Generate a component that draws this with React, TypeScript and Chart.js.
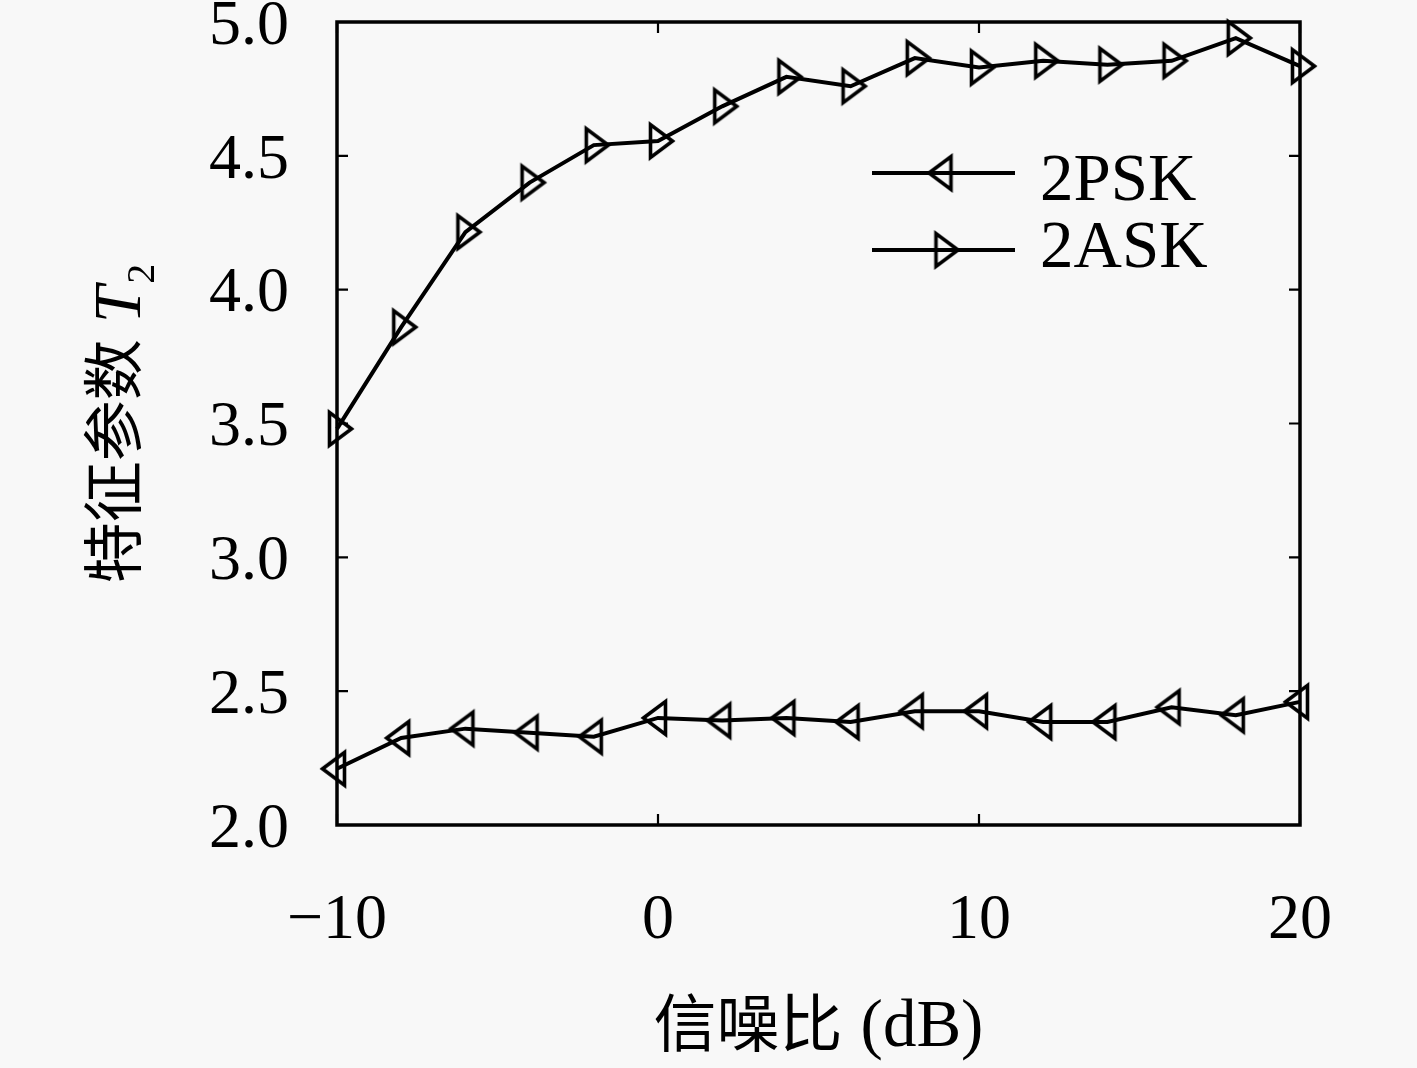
import React, { useEffect, useRef } from 'react';
import { Chart, registerables } from 'chart.js';

Chart.register(...registerables);

// ---- data ----
const snrDb = [-10, -8, -6, -4, -2, 0, 2, 4, 6, 8, 10, 12, 14, 16, 18, 20];
const psk2 = [2.21, 2.325, 2.36, 2.345, 2.33, 2.4, 2.39, 2.4, 2.385, 2.425, 2.425, 2.385, 2.385, 2.44, 2.41, 2.46];
const ask2 = [3.48, 3.86, 4.215, 4.4, 4.54, 4.555, 4.685, 4.795, 4.76, 4.865, 4.83, 4.855, 4.84, 4.855, 4.94, 4.835];
const seriesLabels = ['2PSK', '2ASK'];
const xTicks = [-10, 0, 10, 20];
const yTicks = [2.0, 2.5, 3.0, 3.5, 4.0, 4.5, 5.0];
const xTitleCn = '信噪比';
const xTitleUnit = '(dB)';
const yTitleCn = '特征参数';
const yTitleSym = 'T';
const yTitleSub = '2';

const SERIF = "'Liberation Serif', 'DejaVu Serif', serif";
const CJK = "'Noto Sans CJK SC', 'Noto Sans', sans-serif";

function makeTriangle(dir: number): HTMLCanvasElement {
  const s = 50;
  const c = s / 2;
  const cv = document.createElement('canvas');
  cv.width = s;
  cv.height = s;
  const g = cv.getContext('2d')!;
  g.lineWidth = 3.6;
  g.strokeStyle = '#000';
  g.lineJoin = 'miter';
  g.beginPath();
  g.moveTo(c + dir * 14.5, c);
  g.lineTo(c - dir * 7.5, c - 16.5);
  g.lineTo(c - dir * 7.5, c + 16.5);
  g.closePath();
  g.stroke();
  return cv;
}

export default function App() {
  const ref = useRef<HTMLCanvasElement | null>(null);

  useEffect(() => {
    document.body.style.margin = '0';
    document.body.style.background = '#f8f8f8';
    const canvas = ref.current;
    if (!canvas) return;
    const leftTri = makeTriangle(-1);
    const rightTri = makeTriangle(1);
    const markers = [leftTri, rightTri];

    const framePlugin = {
      id: 'frameTicks',
      beforeDatasetsDraw(chart: any) {
        const { ctx, chartArea: a, scales } = chart;
        const x = scales.x;
        const y = scales.y;
        ctx.save();
        ctx.strokeStyle = '#000';
        ctx.lineWidth = 2.2;
        ctx.beginPath();
        const tl = 11;
        for (const v of xTicks) {
          const px = x.getPixelForValue(v);
          ctx.moveTo(px, a.bottom);
          ctx.lineTo(px, a.bottom - tl);
          ctx.moveTo(px, a.top);
          ctx.lineTo(px, a.top + tl);
        }
        for (const v of yTicks) {
          const py = y.getPixelForValue(v);
          ctx.moveTo(a.left, py);
          ctx.lineTo(a.left + tl, py);
          ctx.moveTo(a.right, py);
          ctx.lineTo(a.right - tl, py);
        }
        ctx.stroke();
        ctx.lineWidth = 3.5;
        ctx.strokeRect(a.left, a.top, a.right - a.left, a.bottom - a.top);
        ctx.restore();
      },
    };

    const legendPlugin = {
      id: 'customLegend',
      afterDatasetsDraw(chart: any) {
        const { ctx, chartArea: a } = chart;
        const x1 = a.right - 428;
        const x2 = a.right - 285;
        const tx = a.right - 260;
        const rows = [a.top + 151, a.top + 228];
        const baselines = [a.top + 178, a.top + 245];
        ctx.save();
        seriesLabels.forEach((lab, i) => {
          const ly = rows[i];
          ctx.strokeStyle = '#000';
          ctx.lineWidth = 4;
          ctx.beginPath();
          ctx.moveTo(x1, ly);
          ctx.lineTo(x2, ly);
          ctx.stroke();
          const m = markers[i];
          ctx.drawImage(m, (x1 + x2) / 2 - m.width / 2, ly - m.height / 2);
          ctx.fillStyle = '#000';
          ctx.font = `67px ${SERIF}`;
          ctx.textBaseline = 'alphabetic';
          ctx.textAlign = 'left';
          ctx.fillText(lab, tx, baselines[i]);
        });
        ctx.restore();
      },
    };

    const titlePlugin = {
      id: 'axisTitles',
      afterDraw(chart: any) {
        const { ctx, chartArea: a } = chart;
        ctx.save();
        ctx.fillStyle = '#000';
        ctx.textBaseline = 'alphabetic';
        ctx.textAlign = 'left';
        // x title
        const cnFont = `63px ${CJK}`;
        const unitFont = `67px ${SERIF}`;
        ctx.font = cnFont;
        const wCn = ctx.measureText(xTitleCn).width;
        ctx.font = unitFont;
        const gap = 18;
        const wUnit = ctx.measureText(xTitleUnit).width;
        const total = wCn + gap + wUnit;
        const sx = (a.left + a.right) / 2 - total / 2;
        const by = 1046;
        ctx.font = cnFont;
        ctx.fillText(xTitleCn, sx, by);
        ctx.font = unitFont;
        ctx.fillText(xTitleUnit, sx + wCn + gap, by);

        // y title (rotated)
        ctx.translate(140, (a.top + a.bottom) / 2);
        ctx.rotate(-Math.PI / 2);
        const yCnFont = `61px ${CJK}`;
        const tFont = `italic 67px ${SERIF}`;
        const subFont = `40px ${SERIF}`;
        ctx.font = yCnFont;
        const w1 = ctx.measureText(yTitleCn).width;
        ctx.font = tFont;
        const w2 = ctx.measureText(yTitleSym).width;
        ctx.font = subFont;
        const w3 = ctx.measureText(yTitleSub).width;
        const g2 = 16;
        const tot = w1 + g2 + w2 + 2 + w3;
        let px = -tot / 2;
        ctx.font = yCnFont;
        ctx.fillText(yTitleCn, px, -4);
        px += w1 + g2;
        ctx.font = tFont;
        ctx.fillText(yTitleSym, px, 0);
        px += w2 + 2;
        ctx.font = subFont;
        ctx.fillText(yTitleSub, px, 14);
        ctx.restore();
      },
    };

    const chart = new Chart(canvas, {
      type: 'line',
      data: {
        datasets: [
          {
            label: seriesLabels[0],
            data: snrDb.map((x, i) => ({ x, y: psk2[i] })),
            borderColor: '#000',
            borderWidth: 4,
            pointStyle: leftTri,
            pointRadius: 10,
            tension: 0,
            fill: false,
            clip: false,
          } as any,
          {
            label: seriesLabels[1],
            data: snrDb.map((x, i) => ({ x, y: ask2[i] })),
            borderColor: '#000',
            borderWidth: 4,
            pointStyle: rightTri,
            pointRadius: 10,
            tension: 0,
            fill: false,
            clip: false,
          } as any,
        ],
      },
      options: {
        responsive: false,
        animation: false,
        devicePixelRatio: 1,
        layout: { padding: { left: 0, right: 117, top: 22, bottom: 0 } },
        plugins: {
          legend: { display: false },
          tooltip: { enabled: false },
        },
        events: [],
        scales: {
          x: {
            type: 'linear',
            min: -10,
            max: 20,
            grid: { display: false, drawTicks: false },
            border: { display: false },
            afterBuildTicks: (s: any) => {
              s.ticks = xTicks.map((v) => ({ value: v }));
            },
            ticks: {
              color: '#000',
              font: { family: SERIF, size: 64 },
              padding: 58,
              maxRotation: 0,
              autoSkip: false,
              callback: (v: any) => (Number(v) < 0 ? '\u2212' + Math.abs(Number(v)) : String(v)),
            },
            afterFit: (s: any) => {
              s.height = 243;
              s.paddingLeft = 0;
              s.paddingRight = 0;
            },
          },
          y: {
            type: 'linear',
            min: 2,
            max: 5,
            grid: { display: false, drawTicks: false },
            border: { display: false },
            afterBuildTicks: (s: any) => {
              s.ticks = yTicks.map((v) => ({ value: v }));
            },
            ticks: {
              color: '#000',
              font: { family: SERIF, size: 64 },
              padding: 48,
              labelOffset: 5,
              autoSkip: false,
              callback: (v: any) => Number(v).toFixed(1),
            },
            afterFit: (s: any) => {
              s.width = 337;
              s.paddingTop = 0;
              s.paddingBottom = 0;
            },
          },
        },
      },
      plugins: [framePlugin, legendPlugin, titlePlugin],
    });

    return () => chart.destroy();
  }, []);

  return (
    <div style={{ width: 1417, height: 1068, background: '#f8f8f8' }}>
      <canvas ref={ref} width={1417} height={1068} style={{ display: 'block' }} />
    </div>
  );
}
